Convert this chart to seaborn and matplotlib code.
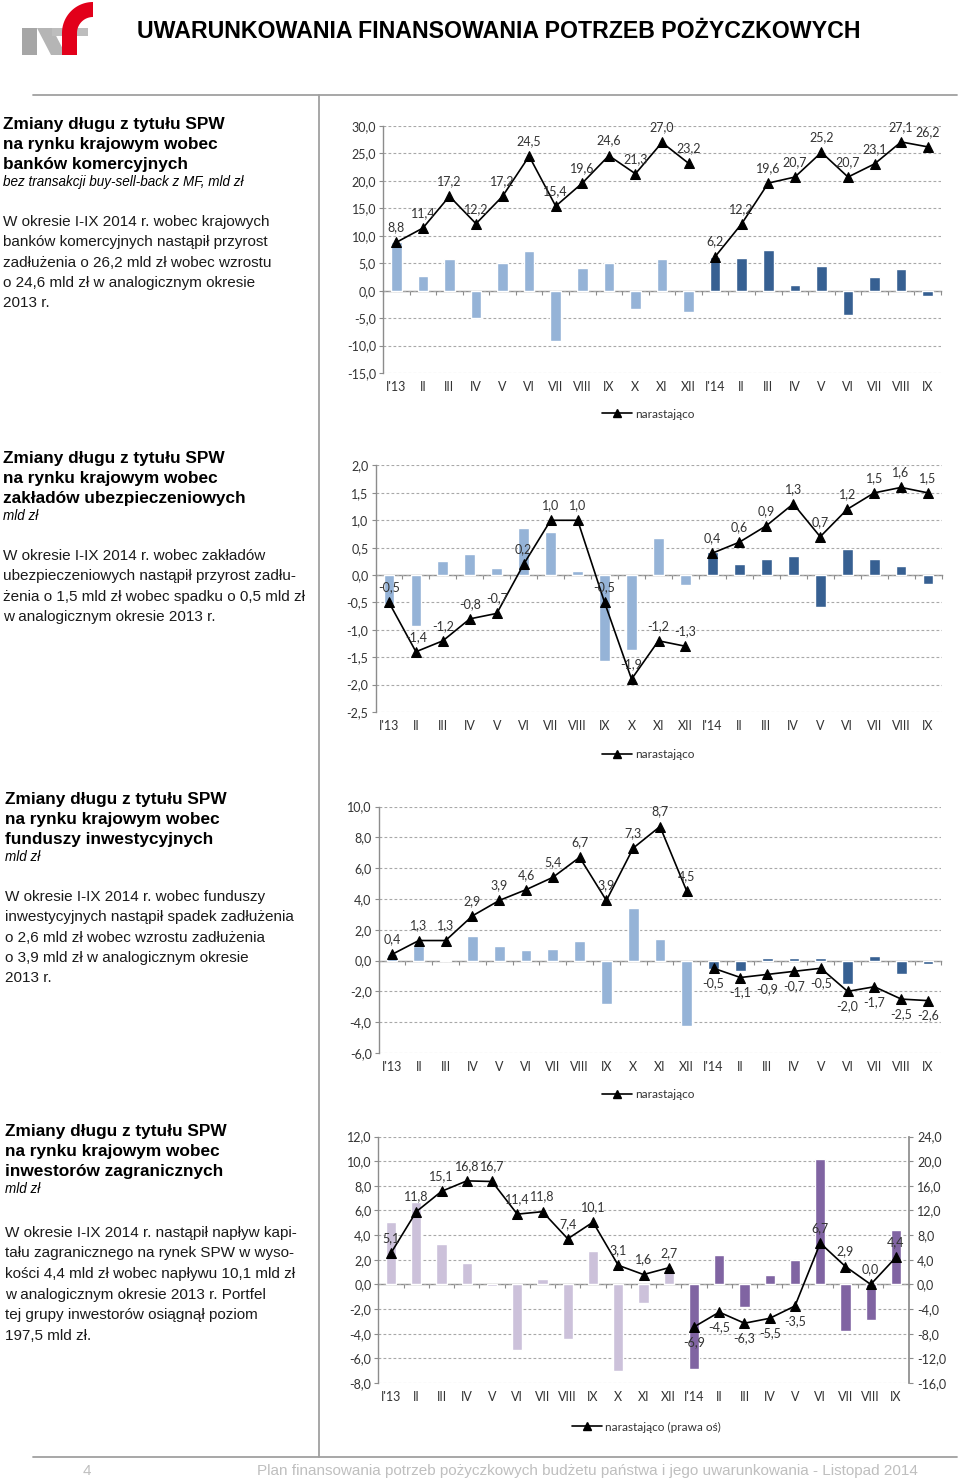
import numpy as np
import pandas as pd
import matplotlib
matplotlib.use("Agg")
import matplotlib.pyplot as plt
import seaborn as sns
from matplotlib.lines import Line2D
from matplotlib.patches import Polygon, Rectangle
from matplotlib.ticker import FuncFormatter
import matplotlib.font_manager as fm

# ---------------- data ----------------
months = ["I'13", "II", "III", "IV", "V", "VI", "VII", "VIII", "IX", "X", "XI", "XII",
          "I'14", "II", "III", "IV", "V", "VI", "VII", "VIII", "IX"]
years = ["2013"] * 12 + ["2014"] * 9

banks_monthly = [8.8, 2.6, 5.8, -5.0, 5.0, 7.3, -9.1, 4.2, 5.0, -3.3, 5.7, -3.8,
                 6.2, 6.0, 7.4, 1.1, 4.5, -4.5, 2.4, 4.0, -0.9]
banks_cum = [8.8, 11.4, 17.2, 12.2, 17.2, 24.5, 15.4, 19.6, 24.6, 21.3, 27.0, 23.2,
             6.2, 12.2, 19.6, 20.7, 25.2, 20.7, 23.1, 27.1, 26.2]

insur_monthly = [-0.53, -0.93, 0.25, 0.39, 0.13, 0.85, 0.79, 0.08, -1.56, -1.37, 0.68, -0.18,
                 0.43, 0.21, 0.29, 0.34, -0.59, 0.47, 0.29, 0.16, -0.17]
insur_cum = [-0.5, -1.4, -1.2, -0.8, -0.7, 0.2, 1.0, 1.0, -0.5, -1.9, -1.2, -1.3,
             0.4, 0.6, 0.9, 1.3, 0.7, 1.2, 1.5, 1.6, 1.5]

funds_monthly = [0.4, 0.93, 0.03, 1.62, 0.93, 0.67, 0.76, 1.25, -2.8, 3.39, 1.43, -4.25,
                 -0.52, -0.67, 0.17, 0.17, 0.17, -1.49, 0.3, -0.84, -0.22]
funds_cum = [0.4, 1.3, 1.3, 2.9, 3.9, 4.6, 5.4, 6.7, 3.9, 7.3, 8.7, 4.5,
             -0.5, -1.1, -0.9, -0.7, -0.5, -2.0, -1.7, -2.5, -2.6]

foreign_monthly = [5.1, 6.7, 3.3, 1.7, -0.1, -5.3, 0.4, -4.4, 2.7, -7.0, -1.5, 1.1,
                   -6.9, 2.4, -1.8, 0.8, 2.0, 10.2, -3.8, -2.9, 4.4]
foreign_cum = [5.1, 11.8, 15.1, 16.8, 16.7, 11.4, 11.8, 7.4, 10.1, 3.1, 1.6, 2.7,
               -6.9, -4.5, -6.3, -5.5, -3.5, 6.7, 2.9, 0.0, 4.4]

title_text = "UWARUNKOWANIA FINANSOWANIA POTRZEB POŻYCZKOWYCH"
footer_text = "Plan finansowania potrzeb pożyczkowych budżetu państwa i jego uwarunkowania - Listopad 2014"
page_no = "4"

sections = [
    (["Zmiany długu z tytułu SPW", "na rynku krajowym wobec", "banków komercyjnych"],
     "bez transakcji buy-sell-back z MF, mld zł",
     ["W okresie I-IX 2014 r. wobec krajowych", "banków komercyjnych nastąpił przyrost",
      "zadłużenia o 26,2 mld zł wobec wzrostu", "o 24,6 mld zł w analogicznym okresie", "2013 r."]),
    (["Zmiany długu z tytułu SPW", "na rynku krajowym wobec", "zakładów ubezpieczeniowych"],
     "mld zł",
     ["W okresie I-IX 2014 r. wobec zakładów", "ubezpieczeniowych nastąpił przyrost zadłu-",
      "żenia o 1,5 mld zł wobec spadku o 0,5 mld zł", "w analogicznym okresie 2013 r."]),
    (["Zmiany długu z tytułu SPW", "na rynku krajowym wobec", "funduszy inwestycyjnych"],
     "mld zł",
     ["W okresie I-IX 2014 r. wobec funduszy", "inwestycyjnych nastąpił spadek zadłużenia",
      "o 2,6 mld zł wobec wzrostu zadłużenia", "o 3,9 mld zł w analogicznym okresie", "2013 r."]),
    (["Zmiany długu z tytułu SPW", "na rynku krajowym wobec", "inwestorów zagranicznych"],
     "mld zł",
     ["W okresie I-IX 2014 r. nastąpił napływ kapi-", "tału zagranicznego na rynek SPW w wyso-",
      "kości 4,4 mld zł wobec napływu 10,1 mld zł", "w analogicznym okresie 2013 r. Portfel",
      "tej grupy inwestorów osiągnął poziom", "197,5 mld zł."]),
]

# ---------------- style ----------------
sns.set_theme(style="white")
plt.rcParams["font.family"] = ["Lato", "DejaVu Sans"]
names = {f.name for f in fm.fontManager.ttflist}
NARROW = "Liberation Sans Narrow" if "Liberation Sans Narrow" in names else "Liberation Sans"
ARIAL = "Liberation Sans"

W, H = 960, 1483
fig = plt.figure(figsize=(W / 100, H / 100), dpi=100)
renderer = fig.canvas.get_renderer()

AX_GRAY = "#8C8C8C"
GRID = "#A8A8A8"
TXT = "#333333"
FS = 9


def fy(y):
    return 1 - y / H


def px_axes(l, t, r, b):
    return fig.add_axes([l / W, 1 - b / H, (r - l) / W, (b - t) / H])


def fmt(v):
    return f"{v:.1f}".replace(".", ",")


def fit_size(s, target, **kw):
    t = fig.text(0, 0, s, fontsize=10, **kw)
    w = t.get_window_extent(renderer=renderer).width
    t.remove()
    return 10 * target / w


# ---------------- decorations ----------------
deco = fig.add_axes([0, 0, 1, 1], zorder=-5)
deco.set_xlim(0, W)
deco.set_ylim(H, 0)
deco.axis("off")
LINE = "#A0A0A0"
deco.plot([33, 957], [95, 95], color=LINE, lw=1.3)
deco.plot([319, 319], [95, 1457], color=LINE, lw=1.3)
deco.plot([33, 957], [1457, 1457], color=LINE, lw=1.3)

# logo
deco.add_patch(Rectangle((22, 28), 15, 27, color="#A6A6A6", lw=0))
deco.add_patch(Polygon([(37, 28), (52, 28), (66, 55), (51, 55)], closed=True, color="#B5B5B5", lw=0))
deco.add_patch(Rectangle((52, 28), 36, 8, color="#BDBDBD", lw=0))
t = np.linspace(0, np.pi / 2, 30)
outer = np.column_stack([93 - 31 * np.cos(t), 33 - 31 * np.sin(t)])
inner = np.column_stack([93 - 16 * np.cos(t), 33 - 16 * np.sin(t)])[::-1]
deco.add_patch(Polygon(np.vstack([outer, inner]), closed=True, color="#E2001A", lw=0))
deco.add_patch(Rectangle((62, 32), 15, 23, color="#E2001A", lw=0))

# title & footer
ts = fit_size(title_text, 723, family=NARROW, weight="bold")
fig.text(137 / W, fy(31), title_text, fontsize=ts, family=NARROW, weight="bold",
         color="black", va="center", ha="left")
fsz = fit_size(footer_text, 664, family=NARROW)
fig.text(257 / W, fy(1471), footer_text, fontsize=fsz, family=NARROW, color="#BFBFBF",
         va="center", ha="left")
fig.text(83 / W, fy(1471), page_no, fontsize=fsz, family=NARROW, color="#BFBFBF",
         va="center", ha="left")

# left texts
hs = fit_size(sections[0][0][0], 221, family=ARIAL, weight="bold")
ss = fit_size(sections[0][1], 242, family=ARIAL, style="italic")
ps = fit_size(sections[0][2][0], 268, family=ARIAL)
layout = [(3, 129, 186, 226, 20.3), (3, 463, 520, 560, 20.3),
          (5, 804, 861, 901, 20.3), (5, 1136, 1193, 1237, 20.5)]
for (heads, sub, para), (x0, hb, sb, pb, dl) in zip(sections, layout):
    for i, s in enumerate(heads):
        fig.text(x0 / W, fy(hb + 20.2 * i), s, fontsize=hs, family=ARIAL, weight="bold",
                 color="black", va="baseline")
    fig.text(x0 / W, fy(sb), sub, fontsize=ss, family=ARIAL, style="italic",
             color="black", va="baseline")
    for i, s in enumerate(para):
        fig.text(x0 / W, fy(pb + dl * i), s, fontsize=ps, family=ARIAL,
                 color="#1A1A1A", va="baseline")


# ---------------- charts ----------------
def draw_chart(box, monthly, cum, ylim, ystep, pal, flags, leg_xy, leg_text,
               twin_lim=None, twin_step=None):
    ax = px_axes(*box)
    df = pd.DataFrame({"pos": np.arange(len(months)), "val": monthly, "year": years})
    sns.barplot(data=df, x="pos", y="val", hue="year", palette=pal, native_scale=True,
                dodge=False, width=0.4, saturation=1, legend=False, ax=ax, zorder=2)
    ax.set_xlim(-0.5, len(months) - 0.5)
    ax.set_ylim(*ylim)
    yt = np.arange(ylim[0], ylim[1] + ystep / 2, ystep)
    ax.set_yticks(yt)
    ax.yaxis.set_major_formatter(FuncFormatter(lambda v, p: fmt(v)))
    ax.set_xticks(np.arange(len(months)))
    ax.set_xticklabels(months)
    ax.set_xlabel("")
    ax.set_ylabel("")
    ax.set_axisbelow(True)
    ax.grid(axis="y", linestyle=(0, (2.5, 2.0)), color=GRID, lw=0.8)
    ax.grid(axis="x", visible=False)
    for s in ["top", "right", "bottom"]:
        ax.spines[s].set_visible(False)
    ax.spines["left"].set_color(AX_GRAY)
    ax.spines["left"].set_linewidth(1.0)
    ax.tick_params(axis="x", length=0, pad=6, labelsize=FS, labelcolor=TXT)
    ax.tick_params(axis="y", left=True, length=3, width=0.8, color=AX_GRAY, pad=2,
                   labelsize=FS, labelcolor=TXT)

    # zero axis with category separators
    frac = (0 - ylim[0]) / (ylim[1] - ylim[0])
    sec = ax.secondary_xaxis(frac)
    sec.set_alignment("bottom")
    sec.set_xticks(np.arange(-0.5, len(months), 1.0))
    sec.tick_params(axis="x", direction="out", length=3, width=0.8, color=AX_GRAY,
                    labelbottom=False)
    sec.spines["bottom"].set_color(AX_GRAY)
    sec.spines["bottom"].set_linewidth(1.0)

    lax = ax
    if twin_lim is not None:
        lax = ax.twinx()
        lax.set_ylim(*twin_lim)
        lax.set_yticks(np.arange(twin_lim[0], twin_lim[1] + twin_step / 2, twin_step))
        lax.yaxis.set_major_formatter(FuncFormatter(lambda v, p: fmt(v)))
        for s in ["top", "left", "bottom"]:
            lax.spines[s].set_visible(False)
        lax.spines["right"].set_color(AX_GRAY)
        lax.grid(False)
        lax.tick_params(axis="y", right=True, length=3, width=0.8, color=AX_GRAY, pad=3,
                        labelsize=FS, labelcolor=TXT)

    dfl = pd.DataFrame({"pos": np.arange(len(months)), "cum": cum, "year": years})
    sns.lineplot(data=dfl, x="pos", y="cum", units="year", estimator=None, color="black",
                 marker="^", markersize=7, markeredgecolor="black", linewidth=1.2,
                 legend=False, ax=lax, zorder=4)
    lax.set_xlabel("")
    lax.set_ylabel("")
    for x, v, f in zip(np.arange(len(months)), cum, flags):
        if f == "a":
            lax.annotate(fmt(v), (x, v), xytext=(0, 6.5), textcoords="offset points",
                         ha="center", va="bottom", fontsize=FS, color=TXT, zorder=5)
        else:
            lax.annotate(fmt(v), (x, v), xytext=(0, -6.5), textcoords="offset points",
                         ha="center", va="top", fontsize=FS, color=TXT, zorder=5)

    handle = Line2D([], [], color="black", marker="^", markersize=6, lw=1.2)
    fig.legend([handle], [leg_text], loc="center left",
               bbox_to_anchor=(leg_xy[0] / W, fy(leg_xy[1])), frameon=False,
               borderpad=0, borderaxespad=0, handlelength=2.5, handletextpad=0.3,
               fontsize=8.5, labelcolor=TXT)
    return ax


BLUES = {"2013": "#95B3D7", "2014": "#376092"}
PURPLES = {"2013": "#CCC1DA", "2014": "#8064A2"}

draw_chart((383, 126, 941, 373), banks_monthly, banks_cum, (-15, 30), 5, BLUES,
           ["a"] * 21, (602, 414), "narastająco")
draw_chart((375.5, 465.5, 941.5, 712), insur_monthly, insur_cum, (-2.5, 2.0), 0.5, BLUES,
           ["a"] * 21, (602, 755), "narastająco")
draw_chart((378.6, 806.5, 941.4, 1053), funds_monthly, funds_cum, (-6, 10), 2, BLUES,
           ["a"] * 12 + ["b"] * 9, (602, 1095), "narastająco")
draw_chart((378.4, 1136.5, 908.6, 1383), foreign_monthly, foreign_cum, (-8, 12), 2, PURPLES,
           ["a"] * 12 + ["b"] * 5 + ["a"] * 4, (572, 1427), "narastająco (prawa oś)",
           twin_lim=(-16, 24), twin_step=4)

fig.savefig("out.png", dpi=100, facecolor="white")
